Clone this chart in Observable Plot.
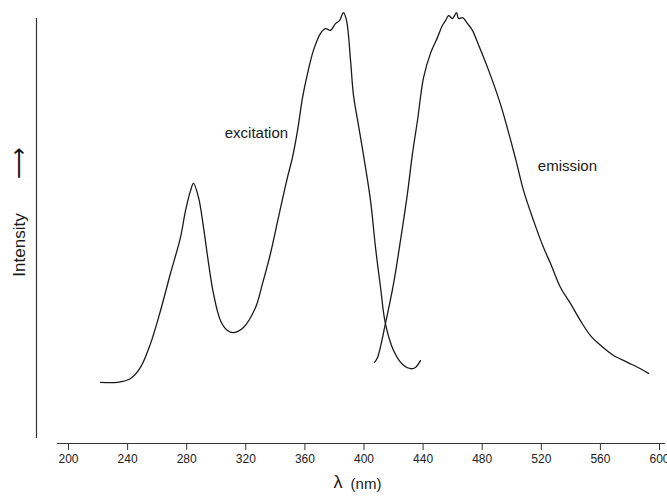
<!DOCTYPE html>
<html><head><meta charset="utf-8">
<script src="https://cdn.jsdelivr.net/npm/d3@7"></script>
<script src="https://cdn.jsdelivr.net/npm/@observablehq/plot@0.6"></script>
<style>body{margin:0;background:#fff}</style>
</head><body><div id="chart"></div>
<script>
const xTicks = [200, 240, 280, 320, 360, 400, 440, 480, 520, 560, 600];

const excitationWavelength = [221.7, 233.2, 242.0, 248.7, 255.5, 262.3, 269.0, 275.8, 279.2, 282.6, 284.6, 288.0, 291.4, 294.8, 298.1, 302.9, 307.6, 311.7, 318.4, 326.6, 331.3, 336.7, 342.1, 348.2, 351.6, 355.0, 358.4, 361.8, 365.8, 370.6, 373.9, 377.3, 380.7, 383.4, 386.1, 388.2, 390.9, 392.9, 396.3, 399.7, 404.4, 407.8, 411.2, 414.5, 420.0, 426.7, 431.5, 434.8, 438.2];
const excitationIntensity = [14.4, 14.4, 15.3, 17.9, 23.5, 31.3, 40.0, 48.5, 54.8, 59.5, 61.2, 57.9, 50.8, 42.4, 35.3, 28.9, 26.6, 26.1, 27.3, 32.0, 37.6, 44.7, 53.2, 62.6, 67.3, 73.6, 81.4, 87.1, 92.5, 96.5, 97.6, 97.2, 98.8, 99.5, 101.4, 99.5, 90.1, 81.9, 74.8, 67.8, 57.2, 46.1, 36.7, 28.2, 21.9, 18.4, 17.6, 17.9, 19.5];

const emissionWavelength = [407.1, 409.1, 414.5, 420.0, 424.7, 429.4, 432.8, 436.2, 440.3, 445.0, 449.7, 453.1, 455.2, 457.2, 459.9, 462.6, 464.0, 466.7, 470.1, 473.4, 476.8, 483.6, 492.4, 502.5, 508.0, 514.7, 521.5, 526.2, 533.0, 539.8, 546.5, 553.3, 560.1, 568.9, 578.3, 587.1, 592.6];
const emissionIntensity = [19.1, 20.2, 28.2, 37.6, 47.8, 58.8, 68.2, 76.0, 86.1, 91.8, 95.5, 98.4, 99.5, 100.7, 100.0, 101.4, 100.0, 100.2, 98.8, 97.2, 94.4, 88.5, 79.8, 67.1, 59.5, 52.5, 46.1, 42.4, 36.7, 32.9, 28.9, 25.4, 23.1, 20.7, 19.1, 17.6, 16.5];

const seriesLabels = ["excitation", "emission"];
const labelWavelength = [327.2, 537.7];
const labelIntensity = [72.9, 65.2];

const excitation = excitationWavelength.map((x, i) => ({x, y: excitationIntensity[i]}));
const emission = emissionWavelength.map((x, i) => ({x, y: emissionIntensity[i]}));
const labels = seriesLabels.map((t, i) => ({t, x: labelWavelength[i], y: labelIntensity[i]}));

const ink = "#1a1a1a";
const chart = Plot.plot({
  width: 667,
  height: 496,
  marginTop: 18,
  marginBottom: 53,
  marginLeft: 68,
  marginRight: 8,
  style: {fontFamily: "'Liberation Sans', Arial, sans-serif", fontSize: "12px", color: ink, background: "#fff"},
  x: {domain: [200, 600]},
  y: {domain: [0, 100], axis: null},
  marks: [
    Plot.frame({anchor: "left", insetLeft: -32, insetBottom: 6, stroke: "#333", strokeWidth: 1.2}),
    Plot.frame({anchor: "bottom", insetLeft: -11, insetRight: -5, stroke: "#333", strokeWidth: 1.2}),
    Plot.axisX({ticks: xTicks, tickSize: 7, tickPadding: 4, label: null, stroke: "#333", fill: "#222"}),
    Plot.line(excitation, {x: "x", y: "y", stroke: ink, strokeWidth: 1.3, curve: "catmull-rom"}),
    Plot.line(emission, {x: "x", y: "y", stroke: ink, strokeWidth: 1.3, curve: "catmull-rom"}),
    Plot.text(labels, {x: "x", y: "y", text: "t", fontSize: 15, fill: ink}),
    Plot.text(["Intensity"], {frameAnchor: "left", textAnchor: "middle", rotate: -90, dx: -49, dy: 14, fontSize: 17, fill: ink, text: d => d}),
    Plot.text(["⟶"], {frameAnchor: "left", textAnchor: "middle", rotate: -90, dx: -50, dy: -68, fontSize: 22, fill: ink, text: d => d}),
    Plot.text(["λ"], {frameAnchor: "bottom", dx: -26, dy: 44, fontSize: 18, fill: ink, text: d => d}),
    Plot.text(["(nm)"], {frameAnchor: "bottom", dx: 2, dy: 45, fontSize: 15, fill: ink, text: d => d})
  ]
});
document.getElementById("chart").append(chart);
</script>
</body></html>
